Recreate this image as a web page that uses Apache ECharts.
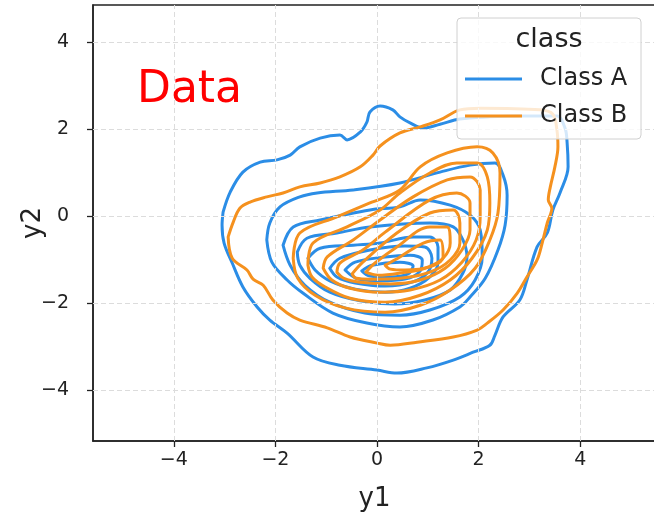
<!DOCTYPE html>
<html>
<head>
<meta charset="utf-8">
<script src="https://cdn.jsdelivr.net/npm/echarts@6/dist/echarts.min.js"></script>
<style>
  html, body { margin: 0; padding: 0; background: #fff; }
  #chart { width: 654px; height: 514px; }
</style>
</head>
<body>
<div id="chart"></div>
<script>
// Tick positions on both axes
const xTicks = [-4, -2, 0, 2, 4];
const yTicks = [-4, -2, 0, 2, 4];

// Class A density contours (outermost first), [y1, y2] pairs
const classA_1 = [[-3.03,0.09],[-3.05,-0.21],[-3.01,-0.62],[-2.85,-1.08],[-2.64,-1.63],[-2.36,-2.09],[-2.11,-2.39],[-1.77,-2.69],[-1.26,-3.24],[-0.73,-3.43],[0,-3.54],[0.39,-3.61],[0.98,-3.49],[1.50,-3.31],[1.89,-3.13],[2.22,-2.97],[2.32,-2.74],[2.48,-2.32],[2.81,-1.93],[2.95,-1.47],[3.15,-0.71],[3.35,-0.39],[3.46,0.14],[3.60,0.53],[3.76,1.13],[3.74,1.70],[3.70,2.02],[3.54,2.30],[2.81,2.30],[2.22,2.28],[1.63,2.23],[1.24,2.11],[0.91,2.02],[0.65,2.14],[0.45,2.28],[0.31,2.44],[0.06,2.53],[-0.14,2.39],[-0.20,2.16],[-0.33,1.93],[-0.59,1.75],[-0.73,1.86],[-1.12,1.79],[-1.52,1.59],[-1.71,1.40],[-1.97,1.29],[-2.30,1.24],[-2.64,1.01],[-2.89,0.55]];
const classA_2 = [[-2.17,-0.55],[-2.11,-0.16],[-1.91,0.21],[-1.52,0.44],[-1.18,0.53],[-0.47,0.60],[0.45,0.76],[1.24,1.01],[1.83,1.17],[2.32,1.22],[2.48,0.94],[2.56,0.48],[2.52,-0.21],[2.38,-0.78],[2.13,-1.43],[1.83,-1.86],[1.63,-2.09],[1.10,-2.39],[0.45,-2.55],[-0.20,-2.46],[-0.87,-2.23],[-1.46,-1.77],[-1.77,-1.47],[-2.07,-1.06]];
const classA_3 = [[-1.85,-0.67],[-1.65,-0.25],[-1.12,-0.09],[-0.14,0.14],[0.45,0.21],[0.85,0.37],[1.44,0.25],[1.83,0.02],[2.03,-0.32],[2.07,-0.94],[1.93,-1.47],[1.63,-1.86],[1.04,-2.16],[0.45,-2.28],[-0.24,-2.23],[-0.93,-1.98],[-1.42,-1.59],[-1.71,-1.13]];
const classA_4 = [[-1.57,-0.83],[-1.38,-0.51],[-0.79,-0.39],[-0.14,-0.25],[1.04,-0.16],[1.50,-0.25],[1.69,-0.55],[1.77,-0.94],[1.69,-1.31],[1.44,-1.70],[0.94,-1.93],[0.35,-2.02],[-0.33,-1.95],[-0.93,-1.75],[-1.32,-1.43],[-1.52,-1.13]];
const classA_5 = [[-1.36,-0.97],[-1.12,-0.74],[-0.47,-0.67],[0.06,-0.62],[0.71,-0.48],[1.04,-0.48],[1.20,-0.71],[1.20,-1.06],[1.04,-1.40],[0.65,-1.66],[0.16,-1.75],[-0.43,-1.68],[-0.93,-1.49],[-1.22,-1.24]];
const classA_6 = [[-0.93,-1.20],[-0.73,-0.97],[-0.14,-0.78],[0.55,-0.69],[0.94,-0.71],[1.08,-0.97],[1.00,-1.29],[0.69,-1.52],[0.16,-1.61],[-0.43,-1.54],[-0.79,-1.40]];
const classA_7 = [[-0.63,-1.24],[-0.43,-1.06],[0.16,-0.94],[0.65,-0.90],[0.89,-1.01],[0.85,-1.26],[0.55,-1.45],[0.06,-1.49],[-0.37,-1.45]];
const classA_8 = [[-0.30,-1.26],[-0.10,-1.13],[0.45,-1.06],[0.71,-1.15],[0.61,-1.33],[0.26,-1.40],[-0.14,-1.38]];

// Class B density contours (outermost first)
const classB_1 = [[-2.93,-0.48],[-2.85,-0.97],[-2.56,-1.24],[-2.44,-1.45],[-2.24,-1.59],[-2.05,-1.93],[-1.77,-2.23],[-1.52,-2.39],[-0.98,-2.57],[-0.53,-2.78],[0,-2.92],[0.26,-2.97],[0.79,-2.90],[1.50,-2.78],[1.97,-2.62],[2.17,-2.46],[2.48,-2.16],[2.76,-1.77],[2.95,-1.40],[3.15,-1.01],[3.25,-0.62],[3.35,-0.16],[3.44,0.18],[3.37,0.37],[3.41,0.67],[3.50,1.13],[3.56,1.59],[3.54,1.98],[3.46,2.34],[3.21,2.44],[2.03,2.48],[1.63,2.44],[1.24,2.21],[0.85,2.05],[0.45,1.91],[0.06,1.61],[-0.08,1.40],[-0.33,1.13],[-0.73,0.90],[-1.12,0.76],[-1.52,0.67],[-1.85,0.53],[-2.17,0.44],[-2.50,0.32],[-2.70,0.18],[-2.83,-0.14]];
const classB_2 = [[-1.65,-0.97],[-1.52,-0.39],[-0.79,-0.02],[-0.14,0.30],[0.45,0.60],[0.85,1.13],[1.38,1.45],[1.97,1.59],[2.28,1.45],[2.42,0.99],[2.38,0.07],[2.22,-0.55],[1.93,-1.20],[1.44,-1.70],[0.85,-2.05],[0.16,-2.21],[-0.63,-2.11],[-1.22,-1.82],[-1.56,-1.43]];
const classB_3 = [[-1.36,-1.13],[-1.26,-0.62],[-0.59,-0.25],[0.06,0.14],[0.45,0.53],[1.04,0.99],[1.57,1.22],[1.97,1.22],[2.17,0.90],[2.22,0.30],[2.17,-0.32],[1.87,-0.97],[1.44,-1.47],[0.85,-1.82],[0.16,-1.98],[-0.53,-1.89],[-1.02,-1.63],[-1.28,-1.40]];
const classB_4 = [[-1.06,-1.20],[-0.98,-0.94],[-0.47,-0.55],[0.06,-0.09],[0.71,0.44],[1.38,0.83],[1.83,0.90],[2.03,0.60],[2.03,-0.02],[1.95,-0.55],[1.67,-1.06],[1.24,-1.47],[0.65,-1.70],[0.06,-1.75],[-0.53,-1.66],[-0.89,-1.47]];
const classB_5 = [[-0.79,-1.29],[-0.73,-1.08],[-0.28,-0.78],[0.16,-0.37],[1.04,0.37],[1.57,0.53],[1.83,0.30],[1.83,-0.32],[1.67,-0.78],[1.34,-1.20],[0.85,-1.47],[0.26,-1.56],[-0.33,-1.52],[-0.65,-1.43]];
const classB_6 = [[-0.49,-1.33],[-0.28,-1.06],[0.39,-0.39],[1.04,0.07],[1.50,0.14],[1.63,-0.16],[1.63,-0.62],[1.44,-1.01],[1.04,-1.29],[0.45,-1.43],[-0.14,-1.45],[-0.41,-1.43]];
const classB_7 = [[-0.22,-1.29],[-0.04,-1.08],[0.39,-0.71],[1.04,-0.25],[1.38,-0.25],[1.44,-0.62],[1.30,-0.97],[0.94,-1.20],[0.45,-1.31],[0.02,-1.36]];
const classB_8 = [[0.16,-1.13],[0.45,-0.94],[0.91,-0.62],[1.24,-0.55],[1.30,-0.94],[1.04,-1.17],[0.55,-1.24],[0.26,-1.22]];

const classA = [classA_1, classA_2, classA_3, classA_4, classA_5, classA_6, classA_7, classA_8];
const classB = [classB_1, classB_2, classB_3, classB_4, classB_5, classB_6, classB_7, classB_8];

const COLOR_A = '#2b8de6';
const COLOR_B = '#f5911e';
const FONT = 'DejaVu Sans';

function closeRing(pts) {
  return pts.concat([pts[0]]);
}

function contourSeries(rings, name, color, z) {
  return rings.map(function (ring) {
    return {
      type: 'line',
      name: name,
      data: closeRing(ring),
      smooth: 0.35,
      showSymbol: false,
      silent: true,
      z: z,
      lineStyle: { color: color, width: 3, cap: 'round', join: 'round' }
    };
  });
}

const minus = function (v) { return v < 0 ? '\u2212' + Math.abs(v) : String(v); };

const chart = echarts.init(document.getElementById('chart'), null, { renderer: 'canvas' });

// Dashed grid lines at the tick positions
const gridSeries = {
  type: 'line',
  data: [],
  silent: true,
  z: 1,
  markLine: {
    silent: true,
    symbol: ['none', 'none'],
    label: { show: false },
    animation: false,
    lineStyle: { color: '#dcdcdc', type: [5, 3], width: 1 },
    data: xTicks.map(function (v) { return { xAxis: v }; })
      .concat(yTicks.map(function (v) { return { yAxis: v }; }))
  }
};

const LEG_Z = 50;

const option = {
  animation: false,
  backgroundColor: '#ffffff',
  grid: {
    left: 93, top: 5, width: 563, height: 436,
    containLabel: false,
    outerBoundsMode: 'none',
    show: true, borderColor: '#222', borderWidth: 1.5, backgroundColor: 'transparent'
  },
  xAxis: {
    type: 'value',
    min: -5.59, max: 5.49,
    name: 'y1',
    nameLocation: 'middle',
    nameGap: 45,
    nameMoveOverlap: false,
    nameTextStyle: { fontFamily: FONT, fontSize: 26, color: '#222' },
    axisLine: { show: true, onZero: false, lineStyle: { color: '#222', width: 1.5 } },
    axisTick: { show: true, length: 6, customValues: xTicks, lineStyle: { color: '#222', width: 1.3 } },
    axisLabel: { customValues: xTicks, formatter: minus, fontFamily: FONT, fontSize: 19, color: '#222', margin: 10 },
    splitLine: { show: false }
  },
  yAxis: {
    type: 'value',
    min: -5.17, max: 4.85,
    name: 'y2',
    nameLocation: 'middle',
    nameGap: 47,
    nameMoveOverlap: false,
    nameRotate: 90,
    nameTextStyle: { fontFamily: FONT, fontSize: 26, color: '#222' },
    axisLine: { show: true, onZero: false, lineStyle: { color: '#222', width: 1.5 } },
    axisTick: { show: true, length: 6, customValues: yTicks, lineStyle: { color: '#222', width: 1.3 } },
    axisLabel: { customValues: yTicks, formatter: minus, fontFamily: FONT, fontSize: 19, color: '#222', margin: 24 },
    splitLine: { show: false }
  },
  series: [gridSeries]
    .concat(contourSeries(classA, 'Class A', COLOR_A, 3))
    .concat(contourSeries(classB, 'Class B', COLOR_B, 4)),
  graphic: [
    {
      type: 'text', left: 137, top: 69, z: LEG_Z,
      style: { text: 'Data', fill: '#ff0000', font: '44px "DejaVu Sans"' }
    },
    { type: 'rect', z: LEG_Z, shape: { x: 457, y: 18, width: 184, height: 121, r: 4 },
      style: { fill: 'rgba(255,255,255,0.8)', stroke: '#d0d0d0', lineWidth: 1 } },
    { type: 'text', z: LEG_Z + 1, x: 549, y: 40,
      style: { text: 'class', fill: '#222', font: '27px "DejaVu Sans"', align: 'center', verticalAlign: 'middle' } },
    { type: 'line', z: LEG_Z + 1, shape: { x1: 465, y1: 79, x2: 522, y2: 79 },
      style: { stroke: COLOR_A, lineWidth: 3 } },
    { type: 'text', z: LEG_Z + 1, x: 540, y: 79,
      style: { text: 'Class A', fill: '#222', font: '24px "DejaVu Sans"', verticalAlign: 'middle' } },
    { type: 'line', z: LEG_Z + 1, shape: { x1: 465, y1: 116, x2: 522, y2: 116 },
      style: { stroke: COLOR_B, lineWidth: 3 } },
    { type: 'text', z: LEG_Z + 1, x: 540, y: 116,
      style: { text: 'Class B', fill: '#222', font: '24px "DejaVu Sans"', verticalAlign: 'middle' } }
  ]
};

chart.setOption(option);
</script>
</body>
</html>
